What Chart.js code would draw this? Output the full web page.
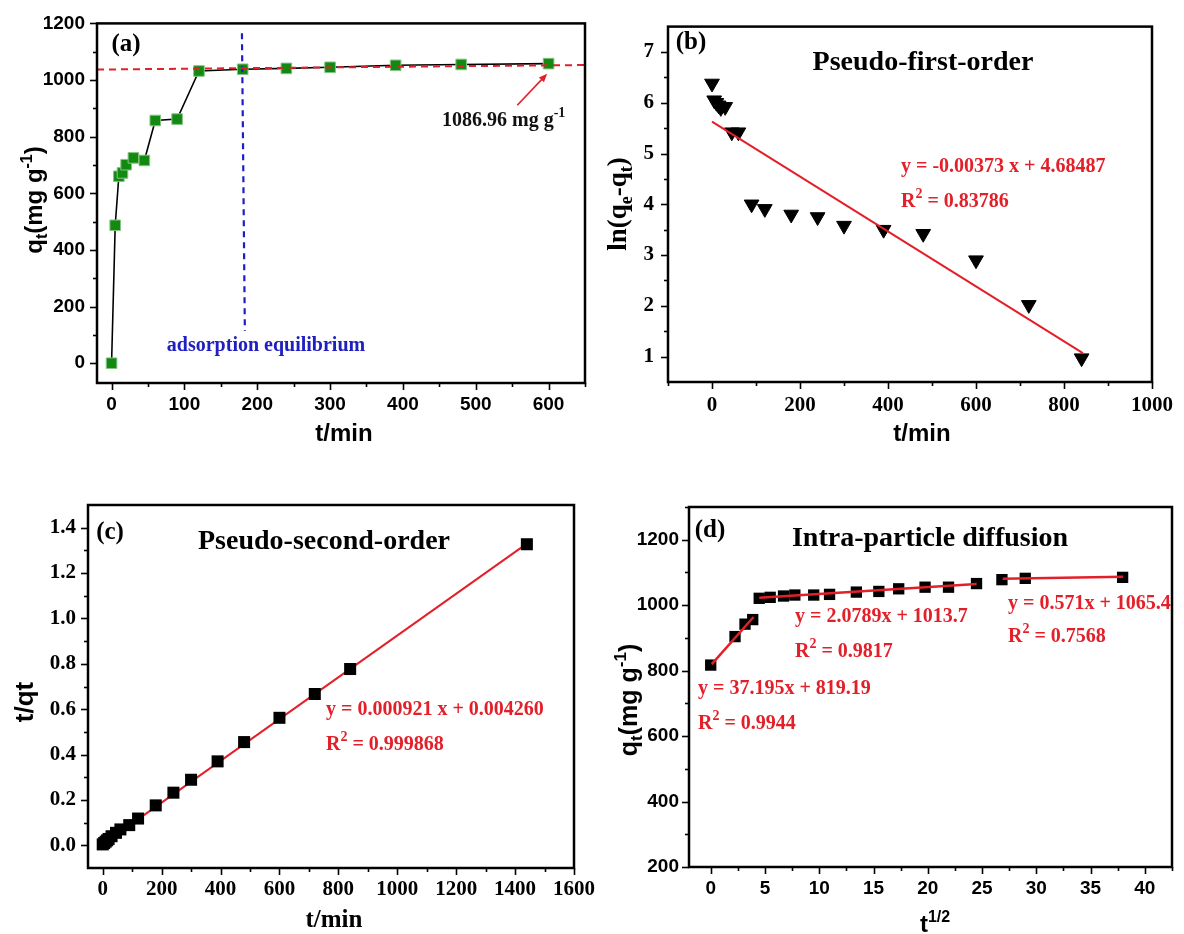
<!DOCTYPE html>
<html>
<head>
<meta charset="utf-8">
<script src="https://cdn.jsdelivr.net/npm/chart.js@4.4.1/dist/chart.umd.min.js"></script>
<style>
  html, body { margin: 0; padding: 0; background: #fff; }
  #page { position: relative; width: 1184px; height: 934px; overflow: hidden; }
  #page canvas { position: absolute; left: 0; top: 0; }
</style>
</head>
<body>
<div id="page">
  <canvas id="panelA" width="1184" height="934"></canvas>
  <canvas id="panelB" width="1184" height="934"></canvas>
  <canvas id="panelC" width="1184" height="934"></canvas>
  <canvas id="panelD" width="1184" height="934"></canvas>
</div>
<script>
const SANS = '"Liberation Sans", Arial, sans-serif';
const SERIF = '"Liberation Serif", "Times New Roman", serif';
const RED = '#e3202a';

// (a) adsorption kinetics, qt vs t
const timeA = [0, 5, 10, 15, 20, 30, 45, 60, 90, 120, 180, 240, 300, 390, 480, 600];
const qtA = [0, 487, 660, 672, 701, 725, 716, 857, 862, 1032, 1038, 1041, 1045, 1052, 1055, 1058];
const qeLineX = [-20, 650];
const qeLineY = [1037, 1053];
const eqLineX = [179, 183];
const eqLineY = [1165, 114];
const arrowAX = [557, 598];
const arrowAY = [911, 1022];
const ticksAX = [0, 100, 200, 300, 400, 500, 600];
const minorAX = [50, 150, 250, 350, 450, 550, 650];
const ticksAY = [0, 200, 400, 600, 800, 1000, 1200];
const minorAY = [100, 300, 500, 700, 900, 1100];

// (b) pseudo-first-order, ln(qe-qt) vs t
const timeB = [0, 5, 10, 15, 20, 30, 45, 60, 90, 120, 180, 240, 300, 390, 480, 600, 720, 840];
const lnB = [6.38, 6.05, 6.0, 5.95, 5.9, 5.92, 5.42, 5.42, 4.0, 3.91, 3.8, 3.75, 3.58, 3.5, 3.42, 2.9, 2.02, 0.97];
const fitBX = [0, 843];
const fitBY = [5.63, 1.07];
const ticksBX = [0, 200, 400, 600, 800, 1000];
const minorBX = [-100, 100, 300, 500, 700, 900];
const ticksBY = [1, 2, 3, 4, 5, 6, 7];
const minorBY = [1.5, 2.5, 3.5, 4.5, 5.5, 6.5];

// (c) pseudo-second-order, t/qt vs t
const timeC = [0, 5, 10, 15, 20, 30, 45, 60, 90, 120, 180, 240, 300, 390, 480, 600, 720, 840, 1440];
const tqC = [0.004, 0.01, 0.016, 0.022, 0.028, 0.04, 0.055, 0.07, 0.089, 0.118, 0.176, 0.232, 0.289, 0.37, 0.455, 0.562, 0.667, 0.777, 1.327];
const fitCX = [0, 1440];
const fitCY = [0.004, 1.33];
const ticksCX = [0, 200, 400, 600, 800, 1000, 1200, 1400, 1600];
const minorCX = [100, 300, 500, 700, 900, 1100, 1300, 1500];
const ticksCY = [0, 0.2, 0.4, 0.6, 0.8, 1.0, 1.2, 1.4];
const minorCY = [0.1, 0.3, 0.5, 0.7, 0.9, 1.1, 1.3];

// (d) intra-particle diffusion, qt vs t^1/2
const sqrtD = [0, 2.24, 3.16, 3.87, 4.47, 5.48, 6.71, 7.75, 9.49, 10.95, 13.42, 15.49, 17.32, 19.75, 21.91, 24.49, 26.83, 28.98, 37.95];
const qtD = [817, 904, 942, 956, 1021, 1024, 1028, 1031, 1031, 1033, 1040, 1042, 1050, 1055, 1055, 1066, 1078, 1082, 1085];
const fit1DX = [0.1, 3.95];
const fit1DY = [820, 964];
const fit2DX = [4.47, 24.5];
const fit2DY = [1023, 1065];
const fit3DX = [26.9, 38];
const fit3DY = [1081, 1087];
const ticksDX = [0, 5, 10, 15, 20, 25, 30, 35, 40];
const minorDX = [2.5, 7.5, 12.5, 17.5, 22.5, 27.5, 32.5, 37.5, 42.5];
const ticksDY = [200, 400, 600, 800, 1000, 1200];
const minorDY = [300, 500, 700, 900, 1100, 1300];

const pts = (xs, ys) => xs.map((x, i) => ({ x, y: ys[i] }));

// draws text made of normal / sub / sup pieces, y is the visual middle
function drawRich(ctx, parts, x, y, size, family, color, align) {
  ctx.save();
  ctx.fillStyle = color;
  ctx.textBaseline = 'alphabetic';
  ctx.textAlign = 'left';
  const fontFor = m => `bold ${m === 'n' ? size : Math.round(size * 0.68)}px ${family}`;
  let w = 0;
  parts.forEach(([t, m]) => { ctx.font = fontFor(m); w += ctx.measureText(t).width; });
  let cx = align === 'center' ? x - w / 2 : (align === 'right' ? x - w : x);
  const base = y + size * 0.34;
  parts.forEach(([t, m]) => {
    ctx.font = fontFor(m);
    const dy = m === 'sub' ? size * 0.22 : (m === 'sup' ? -size * 0.42 : 0);
    ctx.fillText(t, cx, base + dy);
    cx += ctx.measureText(t).width;
  });
  ctx.restore();
}

function axisOpts(ax, font, size, isX) {
  return {
    type: 'linear',
    min: ax.min,
    max: ax.max,
    afterBuildTicks: s => { s.ticks = ax.major.map(v => ({ value: v })); },
    afterFit: s => { if (isX) s.height = size; else s.width = size; },
    grid: { display: false, drawTicks: false },
    border: { display: false },
    ticks: {
      color: '#000',
      autoSkip: false,
      maxRotation: 0,
      padding: isX ? font.padX : font.padY,
      font: { family: font.family, size: font.size, weight: 'bold' },
      callback: v => ax.fmt ? ax.fmt(v) : String(v),
    },
  };
}

function framePlugin(cfg) {
  return {
    id: 'frame_' + cfg.id,
    afterDatasetsDraw(chart) {
      const ctx = chart.ctx;
      (cfg.texts || []).forEach(t => {
        if (t.rotate) {
          ctx.save();
          ctx.translate(t.x, t.y);
          ctx.rotate(-Math.PI / 2);
          drawRich(ctx, t.parts, 0, 0, t.size, t.family, t.color || '#000', 'center');
          ctx.restore();
        } else {
          drawRich(ctx, t.parts, t.x, t.y, t.size, t.family, t.color || '#000', t.align || 'left');
        }
      });
      if (cfg.arrow) {
        const { x, y } = chart.scales;
        const a = cfg.arrow;
        const x0 = x.getPixelForValue(a.xs[0]), y0 = y.getPixelForValue(a.ys[0]);
        const x1 = x.getPixelForValue(a.xs[1]), y1 = y.getPixelForValue(a.ys[1]);
        const ang = Math.atan2(y1 - y0, x1 - x0);
        ctx.save();
        ctx.strokeStyle = RED; ctx.fillStyle = RED; ctx.lineWidth = 1.6;
        ctx.beginPath(); ctx.moveTo(x0, y0); ctx.lineTo(x1 - 6 * Math.cos(ang), y1 - 6 * Math.sin(ang)); ctx.stroke();
        ctx.beginPath();
        ctx.moveTo(x1, y1);
        ctx.lineTo(x1 - 9 * Math.cos(ang - 0.4), y1 - 9 * Math.sin(ang - 0.4));
        ctx.lineTo(x1 - 9 * Math.cos(ang + 0.4), y1 - 9 * Math.sin(ang + 0.4));
        ctx.closePath(); ctx.fill();
        ctx.restore();
      }
    },
    afterDraw(chart) {
      const { ctx, chartArea: a, scales: { x, y } } = chart;
      ctx.save();
      ctx.strokeStyle = '#000';
      ctx.lineWidth = 1.6;
      const drawTicks = (vals, len, isX) => {
        vals.forEach(v => {
          ctx.beginPath();
          if (isX) {
            const px = Math.round(x.getPixelForValue(v)) + 0.5;
            ctx.moveTo(px, a.bottom); ctx.lineTo(px, a.bottom + len);
          } else {
            const py = Math.round(y.getPixelForValue(v)) + 0.5;
            ctx.moveTo(a.left, py); ctx.lineTo(a.left - len, py);
          }
          ctx.stroke();
        });
      };
      drawTicks(cfg.x.major, 7, true);
      drawTicks(cfg.x.minor, 4, true);
      drawTicks(cfg.y.major, 7, false);
      drawTicks(cfg.y.minor, 4, false);
      ctx.lineWidth = 2.5;
      ctx.strokeRect(a.left, a.top, a.right - a.left, a.bottom - a.top);
      ctx.restore();
    },
  };
}

function buildPanel(cfg) {
  const W = 1184, H = 934, AXW = 80, AXH = 50;
  const f = cfg.frame;
  return new Chart(document.getElementById(cfg.id), {
    type: 'scatter',
    data: { datasets: cfg.datasets },
    options: {
      responsive: false,
      animation: false,
      layout: { padding: { left: f.l - AXW, top: f.t, right: W - f.r, bottom: H - f.b - AXH } },
      plugins: { legend: { display: false }, tooltip: { enabled: false } },
      scales: {
        x: axisOpts(cfg.x, cfg.tickFont, AXH, true),
        y: axisOpts(cfg.y, cfg.tickFont, AXW, false),
      },
    },
    plugins: [framePlugin(cfg)],
  });
}

const lineSet = (xs, ys, color, width, dash, order) => ({
  data: pts(xs, ys), showLine: true, borderColor: color, borderWidth: width,
  borderDash: dash || [], pointRadius: 0, order: order,
});

// (a)
buildPanel({
  id: 'panelA',
  frame: { l: 97, t: 23, r: 585, b: 383 },
  x: { min: -20, max: 650, major: ticksAX, minor: minorAX },
  y: { min: -70, max: 1200, major: ticksAY, minor: minorAY },
  tickFont: { family: SANS, size: 19, padX: 10, padY: 12 },
  datasets: [
    { data: pts(timeA, qtA), showLine: true, borderColor: '#000', borderWidth: 1.6,
      pointStyle: 'rect', pointRadius: 7.5, pointBackgroundColor: '#128a12',
      pointBorderColor: '#86c486', pointBorderWidth: 1, order: 3 },
    lineSet(qeLineX, qeLineY, RED, 2, [7, 5], 1),
    lineSet(eqLineX, eqLineY, '#1c1cc8', 2.2, [6, 5], 2),
  ],
  arrow: { xs: arrowAX, ys: arrowAY },
  texts: [
    { parts: [['(a)', 'n']], x: 126, y: 42, size: 25, family: SERIF, align: 'center' },
    { parts: [['adsorption equilibrium', 'n']], x: 266, y: 344, size: 20, family: SERIF, color: '#2020c0', align: 'center' },
    { parts: [['1086.96 mg g', 'n'], ['-1', 'sup']], x: 442, y: 119, size: 20, family: SERIF, color: '#111' },
    { parts: [['q', 'n'], ['t', 'sub'], ['(mg g', 'n'], ['-1', 'sup'], [')', 'n']], x: 34, y: 200, size: 24, family: SANS, rotate: true },
    { parts: [['t/min', 'n']], x: 344, y: 433, size: 24, family: SANS, align: 'center' },
  ],
});

// (b)
buildPanel({
  id: 'panelB',
  frame: { l: 668, t: 21, r: 1163, b: 382 },
  x: { min: -100, max: 1000, major: ticksBX, minor: minorBX },
  y: { min: 0.5, max: 7.5, major: ticksBY, minor: minorBY },
  tickFont: { family: SERIF, size: 21, padX: 11, padY: 14 },
  datasets: [
    lineSet(fitBX, fitBY, RED, 2, [], 1),
    { data: pts(timeB, lnB), pointStyle: 'triangle', rotation: 180, pointRadius: 8.5,
      pointBackgroundColor: '#000', pointBorderColor: '#000', pointBorderWidth: 1, order: 2 },
  ],
  texts: [
    { parts: [['(b)', 'n']], x: 691, y: 40, size: 25, family: SERIF, align: 'center' },
    { parts: [['Pseudo-first-order', 'n']], x: 923, y: 60, size: 28, family: SERIF, align: 'center' },
    { parts: [['y = -0.00373 x + 4.68487', 'n']], x: 901, y: 165, size: 20, family: SERIF, color: RED },
    { parts: [['R', 'n'], ['2', 'sup'], [' = 0.83786', 'n']], x: 901, y: 200, size: 20, family: SERIF, color: RED },
    { parts: [['ln(q', 'n'], ['e', 'sub'], ['-q', 'n'], ['t', 'sub'], [')', 'n']], x: 617, y: 204, size: 27, family: SERIF, rotate: true },
    { parts: [['t/min', 'n']], x: 922, y: 433, size: 24, family: SANS, align: 'center' },
  ],
});

// (c)
buildPanel({
  id: 'panelC',
  frame: { l: 88, t: 505, r: 574, b: 868 },
  x: { min: -50, max: 1600, major: ticksCX, minor: minorCX },
  y: { min: -0.1, max: 1.5, major: ticksCY, minor: minorCY, fmt: v => v.toFixed(1) },
  tickFont: { family: SERIF, size: 21, padX: 9, padY: 12 },
  datasets: [
    lineSet(fitCX, fitCY, RED, 2, [], 2),
    { data: pts(timeC, tqC), pointStyle: 'rect', pointRadius: 8.5, pointBackgroundColor: '#000',
      pointBorderColor: '#000', pointBorderWidth: 0, order: 1 },
  ],
  texts: [
    { parts: [['(c)', 'n']], x: 110, y: 530, size: 25, family: SERIF, align: 'center' },
    { parts: [['Pseudo-second-order', 'n']], x: 324, y: 539, size: 28, family: SERIF, align: 'center' },
    { parts: [['y = 0.000921 x + 0.004260', 'n']], x: 326, y: 708, size: 20, family: SERIF, color: RED },
    { parts: [['R', 'n'], ['2', 'sup'], [' = 0.999868', 'n']], x: 326, y: 743, size: 20, family: SERIF, color: RED },
    { parts: [['t/qt', 'n']], x: 24, y: 702, size: 26, family: SANS, rotate: true },
    { parts: [['t/min', 'n']], x: 334, y: 918, size: 25, family: SERIF, align: 'center' },
  ],
});

// (d)
buildPanel({
  id: 'panelD',
  frame: { l: 689, t: 507, r: 1172, b: 867 },
  x: { min: -2, max: 42.5, major: ticksDX, minor: minorDX },
  y: { min: 200, max: 1300, major: ticksDY, minor: minorDY },
  tickFont: { family: SANS, size: 19, padX: 10, padY: 10 },
  datasets: [
    { data: pts(sqrtD, qtD), pointStyle: 'rect', pointRadius: 8, pointBackgroundColor: '#000',
      pointBorderColor: '#000', pointBorderWidth: 0, order: 2 },
    lineSet(fit1DX, fit1DY, RED, 2.5, [], 1),
    lineSet(fit2DX, fit2DY, RED, 2.5, [], 1),
    lineSet(fit3DX, fit3DY, RED, 2.5, [], 1),
  ],
  texts: [
    { parts: [['(d)', 'n']], x: 710, y: 528, size: 25, family: SERIF, align: 'center' },
    { parts: [['Intra-particle diffusion', 'n']], x: 930, y: 536, size: 28, family: SERIF, align: 'center' },
    { parts: [['y = 2.0789x + 1013.7', 'n']], x: 795, y: 615, size: 20, family: SERIF, color: RED },
    { parts: [['R', 'n'], ['2', 'sup'], [' = 0.9817', 'n']], x: 795, y: 650, size: 20, family: SERIF, color: RED },
    { parts: [['y = 0.571x + 1065.4', 'n']], x: 1008, y: 602, size: 20, family: SERIF, color: RED },
    { parts: [['R', 'n'], ['2', 'sup'], [' = 0.7568', 'n']], x: 1008, y: 635, size: 20, family: SERIF, color: RED },
    { parts: [['y = 37.195x + 819.19', 'n']], x: 698, y: 687, size: 20, family: SERIF, color: RED },
    { parts: [['R', 'n'], ['2', 'sup'], [' = 0.9944', 'n']], x: 698, y: 722, size: 20, family: SERIF, color: RED },
    { parts: [['q', 'n'], ['t', 'sub'], ['(mg g', 'n'], ['-1', 'sup'], [')', 'n']], x: 628, y: 700, size: 25, family: SANS, rotate: true },
    { parts: [['t', 'n'], ['1/2', 'sup']], x: 935, y: 924, size: 24, family: SANS, align: 'center' },
  ],
});
</script>
</body>
</html>
